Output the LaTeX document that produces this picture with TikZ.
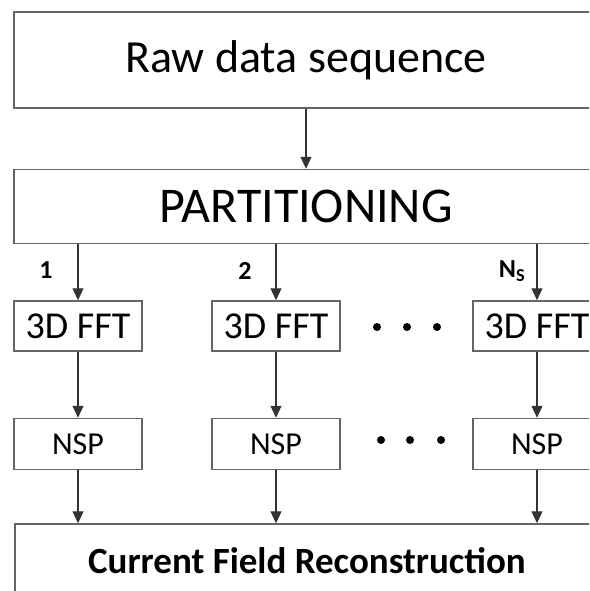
\documentclass[tikz,border=0pt]{standalone}
\usepackage{fontspec}
\setmainfont{Carlito}
\usepackage{tikz}
\usetikzlibrary{positioning, arrows.meta}

\begin{document}
\begin{tikzpicture}[x=1pt, y=1pt, node distance=60pt,
        every node/.style={inner sep=0pt},
        block/.style={rectangle, draw=black!60, line width=1.5pt, fill=white},
        flow/.style={draw=black!80, line width=1.1pt, -{Triangle[length=12pt, width=11pt]}}]
                \clip (0,0) rectangle (589,-591);
                \fill[white] (0,0) rectangle (589,-591);

                \node[block, minimum width=584pt, minimum height=96pt, font=\fontsize{46}{50}\selectfont] (raw) at (306,-60) {Raw data sequence};
                \node[block, minimum width=584pt, minimum height=74pt, font=\fontsize{50}{54}\selectfont] (part) [below=of raw] {PARTITIONING};

                % one column per segment
                \node[block, minimum width=128pt, minimum height=50pt, font=\fontsize{38}{42}\selectfont] (fft1) at (78,-326) {3D FFT};
                \node[block, minimum width=128pt, minimum height=50pt, font=\fontsize{38}{42}\selectfont] (fft2) at (276,-326) {3D FFT};
                \node[block, minimum width=128pt, minimum height=50pt, font=\fontsize{38}{42}\selectfont] (fft3) at (537,-326) {3D FFT\hspace{9pt}};

                \node[block, minimum width=128pt, minimum height=51pt, font=\fontsize{32}{34}\selectfont] (nsp1) [below=66pt of fft1] {NSP};
                \node[block, minimum width=128pt, minimum height=51pt, font=\fontsize{32}{34}\selectfont] (nsp2) [below=66pt of fft2] {NSP};
                \node[block, minimum width=128pt, minimum height=51pt, font=\fontsize{32}{34}\selectfont] (nsp3) [below=66pt of fft3] {NSP};

                \node[block, minimum width=584pt, minimum height=74pt, font=\bfseries\fontsize{37}{40}\selectfont] (rec) at (307,-561) {Current Field Reconstruction};

                \draw[flow] (raw) -- (part);
                \foreach \i in {1,2,3} {
                        \draw[flow] (part.south -| fft\i) -- (fft\i);
                        \draw[flow] (fft\i) -- (nsp\i);
                        \draw[flow] (nsp\i) -- (rec.north -| nsp\i);
                }

                % segment labels
                \node[font=\bfseries\fontsize{26}{28}\selectfont] (lab1) at (46,-270) {1};
                \node[font=\bfseries\fontsize{26}{28}\selectfont] (lab2) at (245,-271) {2};
                \node[font=\bfseries\fontsize{26}{28}\selectfont] (lab3) at (512,-271) {N\textsubscript{S}};

                % dots between the columns
                \foreach \x in {377,407,437} {
                        \fill (\x,-327) circle (4pt);
                }
                \foreach \x in {381,410,441} {
                        \fill (\x,-440) circle (4pt);
                }
        \end{tikzpicture}
\end{document}
